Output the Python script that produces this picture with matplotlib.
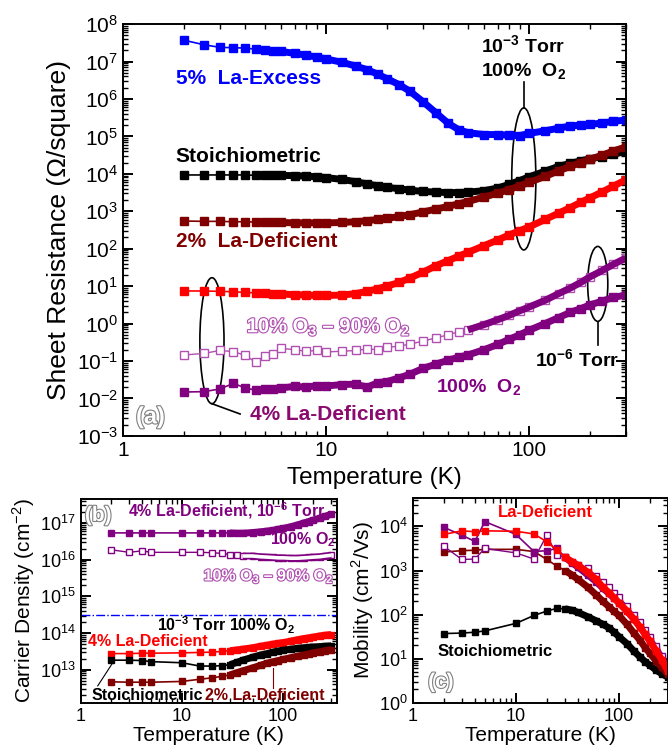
import numpy as np
import matplotlib
matplotlib.use('Agg')
import matplotlib.pyplot as plt
import matplotlib.patheffects as pe
from matplotlib.patches import Ellipse
from matplotlib.ticker import LogLocator, FuncFormatter, NullFormatter

plt.rcParams['font.family'] = ['Liberation Sans', 'DejaVu Sans']
plt.rcParams['mathtext.fontset'] = 'custom'
plt.rcParams['mathtext.rm'] = 'Liberation Sans'
plt.rcParams['mathtext.bf'] = 'Liberation Sans:bold'
plt.rcParams['axes.unicode_minus'] = False

BLUE, BLACK, MAROON, RED = '#0000ff', '#000000', '#800000', '#ff0000'
PURPLE, LILAC, MAGENTA = '#800080', '#b050b0', '#8b0a6e'

# ---- (a) sheet resistance, log10(ohm/sq) ----
temp_a = [2, 2.5, 3, 3.5, 4, 4.5, 5, 5.5, 6, 7, 8, 9, 10, 12, 14, 16, 18, 20, 23, 26,
          30, 35, 40, 45, 50, 60, 70, 80, 90, 100, 120, 140, 160, 180, 200, 230, 260, 300]
rs_excess = [7.57, 7.45, 7.38, 7.37, 7.36, 7.33, 7.31, 7.29, 7.27, 7.22, 7.17, 7.12, 7.07,
             6.98, 6.88, 6.78, 6.66, 6.54, 6.38, 6.2, 5.93, 5.62, 5.35, 5.18, 5.1, 5.05,
             5.05, 5.03, 5.02, 5.08, 5.15, 5.22, 5.28, 5.3, 5.32, 5.36, 5.4, 5.44]
rs_stoich = [3.97, 3.97, 3.97, 3.97, 3.97, 3.96, 3.96, 3.96, 3.96, 3.95, 3.94, 3.92, 3.9,
             3.85, 3.79, 3.73, 3.68, 3.64, 3.6, 3.56, 3.53, 3.51, 3.5, 3.5, 3.51, 3.55,
             3.62, 3.72, 3.82, 3.92, 4.07, 4.2, 4.28, 4.35, 4.4, 4.46, 4.52, 4.6]
rs_def2 = [2.74, 2.73, 2.73, 2.72, 2.72, 2.71, 2.71, 2.7, 2.7, 2.69, 2.69, 2.69, 2.69,
           2.7, 2.72, 2.75, 2.78, 2.81, 2.86, 2.91, 2.98, 3.06, 3.13, 3.2, 3.26, 3.38,
           3.48, 3.58, 3.68, 3.77, 3.93, 4.08, 4.2, 4.3, 4.39, 4.5, 4.61, 4.72]
rs_def4_3 = [0.87, 0.87, 0.86, 0.85, 0.83, 0.82, 0.81, 0.8, 0.79, 0.77, 0.76, 0.75, 0.75,
             0.76, 0.8, 0.86, 0.93, 1.0, 1.1, 1.22, 1.37, 1.55, 1.68, 1.8, 1.9, 2.08,
             2.23, 2.37, 2.48, 2.58, 2.78, 2.95, 3.1, 3.24, 3.36, 3.52, 3.67, 3.84]
rs_ozone = [-0.84, -0.8, -0.72, -0.75, -0.85, -1.03, -0.86, -0.82, -0.66, -0.7, -0.74,
            -0.72, -0.76, -0.74, -0.72, -0.68, -0.7, -0.64, -0.6, -0.55, -0.47, -0.38,
            -0.3, -0.22, -0.17, -0.03, 0.1, 0.22, 0.34, 0.44, 0.62, 0.8, 0.95, 1.1,
            1.25, 1.42, 1.58, 1.75]
rs_o2 = [-1.83, -1.82, -1.75, -1.6, -1.72, -1.78, -1.76, -1.74, -1.72, -1.68, -1.7,
         -1.66, -1.67, -1.63, -1.62, -1.7, -1.58, -1.55, -1.45, -1.35, -1.2, -1.08,
         -0.98, -0.9, -0.84, -0.7, -0.56, -0.42, -0.3, -0.18, 0.0, 0.16, 0.3, 0.4,
         0.5, 0.6, 0.7, 0.76]

# ---- (b) carrier density, log10(cm^-2) and (c) mobility, log10(cm^2/Vs) ----
temp_bc = [2, 3, 4, 5, 10, 15, 20, 25, 30, 35, 40, 50, 60, 70, 80, 90, 100, 120, 140,
           160, 180, 200, 230, 260, 300]
n_o2 = [16.73, 16.73, 16.73, 16.73, 16.73, 16.73, 16.73, 16.73, 16.73, 16.72, 16.72,
        16.74, 16.76, 16.78, 16.8, 16.83, 16.85, 16.9, 16.95, 17.0, 17.04, 17.08, 17.13,
        17.18, 17.24]
n_ozone = [16.27, 16.2, 16.24, 16.2, 16.2, 16.2, 16.19, 16.17, 16.14, 16.12, 16.1, 16.1,
           16.08, 16.07, 16.06, 16.05, 16.05, 16.04, 16.04, 16.05, 16.06, 16.07, 16.08,
           16.1, 16.12]
n_def4_3 = [13.44, 13.44, 13.45, 13.45, 13.46, 13.47, 13.48, 13.5, 13.52, 13.54, 13.56,
            13.6, 13.64, 13.67, 13.7, 13.72, 13.74, 13.78, 13.82, 13.85, 13.87, 13.89,
            13.92, 13.94, 13.96]
n_stoich = [13.26, 13.26, 13.25, 13.22, 13.19, 13.1, 13.1, 13.11, 13.14, 13.2, 13.26,
            13.34, 13.4, 13.44, 13.48, 13.51, 13.53, 13.56, 13.58, 13.6, 13.61, 13.62,
            13.63, 13.64, 13.65]
n_def2 = [12.67, 12.66, 12.66, 12.66, 12.68, 12.74, 12.78, 12.82, 12.86, 12.92, 12.97,
          13.05, 13.12, 13.18, 13.22, 13.25, 13.28, 13.33, 13.37, 13.4, 13.43, 13.46,
          13.49, 13.52, 13.55]
n_threshold = 3.2e14

mu_o2 = [3.98, 3.8, 3.66, 4.11, 3.82, 3.43, 3.45, 3.5, 3.3, 3.18, 3.08, 2.9, 2.75, 2.6,
         2.48, 2.37, 2.27, 2.08, 1.9, 1.73, 1.57, 1.42, 1.22, 1.02, 0.76]
mu_ozone = [3.55, 3.25, 3.26, 3.5, 3.4, 3.26, 3.8, 3.35, 3.3, 3.2, 3.12, 3.05, 2.88, 2.75,
            2.62, 2.5, 2.4, 2.2, 2.0, 1.83, 1.66, 1.5, 1.28, 1.06, 0.8]
mu_def4_3 = [3.82, 3.9, 3.88, 3.9, 3.89, 3.83, 3.65, 3.47, 3.3, 3.2, 3.12, 2.96, 2.8,
             2.62, 2.5, 2.38, 2.27, 2.08, 1.9, 1.72, 1.55, 1.4, 1.18, 0.98, 0.72]
mu_def2 = [3.42, 3.45, 3.46, 3.48, 3.48, 3.43, 3.25, 3.1, 3.0, 2.9, 2.8, 2.62, 2.45, 2.3,
           2.18, 2.07, 1.98, 1.78, 1.58, 1.42, 1.25, 1.12, 0.95, 0.8, 0.65]
mu_stoich = [1.57, 1.58, 1.6, 1.63, 1.8, 1.98, 2.08, 2.14, 2.13, 2.1, 2.05, 1.95, 1.86,
             1.78, 1.7, 1.6, 1.5, 1.34, 1.17, 1.04, 0.93, 0.85, 0.74, 0.66, 0.58]


def curve(ax, t, logv, color, dense_from, open_marker=False, ms=5, band=5,
          band_color=None, hollow_band=False):
    t = np.asarray(t, float)
    v = 10 ** np.asarray(logv, float)
    m = t >= dense_from
    if open_marker:
        ax.plot(t, v, '-', color=color, lw=1, marker='s', ms=ms,
                mfc='white', mec=color, mew=1)
        if m.any():
            ax.plot(t[m], v[m], '-', color=band_color or color, lw=band,
                    solid_capstyle='butt')
            if hollow_band:
                ax.plot(t[m], v[m], '-', color='white', lw=band - 2.4,
                        solid_capstyle='butt')
        return
    ax.plot(t, v, '-', color=color, lw=1.2, marker='s', ms=ms, mec=color)
    ax.plot(t[m], v[m], '-', color=color, lw=band, solid_capstyle='butt')


def style_axes(ax, label_size):
    ax.set_xscale('log')
    ax.set_yscale('log')
    ax.xaxis.set_major_locator(LogLocator(base=10, numticks=20))
    ax.xaxis.set_minor_locator(LogLocator(base=10, subs=np.arange(2, 10), numticks=100))
    ax.yaxis.set_major_locator(LogLocator(base=10, numticks=20))
    ax.yaxis.set_minor_locator(LogLocator(base=10, subs=np.arange(2, 10), numticks=100))
    ax.xaxis.set_major_formatter(FuncFormatter(lambda v, _: f'{v:g}'))
    ax.xaxis.set_minor_formatter(NullFormatter())
    ax.yaxis.set_minor_formatter(NullFormatter())
    ax.tick_params(which='both', direction='in', top=True, right=True,
                   labelsize=label_size)
    ax.tick_params(which='major', length=7, width=1.4)
    ax.tick_params(which='minor', length=3.5, width=1)
    for s in ax.spines.values():
        s.set_linewidth(1.4)


def hollow(ax, x, y, s, color, size, **kw):
    ax.text(x, y, s, color='white', fontsize=size, fontweight='bold',
            path_effects=[pe.Stroke(linewidth=1.6, foreground=color), pe.Normal()], **kw)


fig = plt.figure(figsize=(6.68, 7.54), dpi=100)

# ---------------- panel (a) ----------------
ax = fig.add_axes([0.184, 0.422, 0.753, 0.546])
style_axes(ax, 15)
curve(ax, temp_a, rs_excess, BLUE, 5, ms=5.5)
curve(ax, temp_a, rs_stoich, BLACK, 5, ms=5.5)
curve(ax, temp_a, rs_def2, MAROON, 5, ms=5.5)
curve(ax, temp_a, rs_def4_3, RED, 5, ms=5.5)
curve(ax, temp_a, rs_ozone, LILAC, 50, open_marker=True, ms=6, band_color=PURPLE)
curve(ax, temp_a, rs_o2, PURPLE, 5, ms=5.5)
ax.set_xlim(1, 300)
ax.set_ylim(1e-3, 1e8)
ax.set_xlabel('Temperature (K)', fontsize=17.5, labelpad=5)
ax.set_ylabel('Sheet Resistance (\u03a9/square)', fontsize=19, labelpad=4)

kw = dict(fontsize=15, fontweight='bold', va='center')
ax.text(1.82, 10 ** 6.56, '5%  La-Excess', color=BLUE, **kw)
ax.text(1.82, 10 ** 4.45, 'Stoichiometric', color=BLACK, **kw)
ax.text(1.82, 10 ** 2.18, '2%  La-Deficient', color=MAROON, **kw)
ax.text(94, 10 ** 7.09, '10$^{\\mathbf{-3}}$ Torr\n100%  O$_{\\mathbf{2}}$', color=BLACK,
        ha='center', linespacing=1.25, fontsize=14, fontweight='bold', va='center')
ax.text(4.21, 10 ** -2.44, '4% La-Deficient', color=MAGENTA, **kw)
ax.text(172, 10 ** -0.97, '10$^{\\mathbf{-6}}$ Torr', color=BLACK, ha='center',
        fontsize=14, fontweight='bold', va='center')
ax.text(34.9, 10 ** -1.72, '100%  O$_{\\mathbf{2}}$', color=PURPLE, fontsize=14,
        fontweight='bold', va='center')
hollow(ax, 4.07, 10 ** -0.09, '10% O$_{\\mathbf{3}}$ \u2013 90% O$_{\\mathbf{2}}$', LILAC,
       14.5, va='center')
hollow(ax, 0.026, 0.046, '(a)', '#808080', 17, va='center', transform=ax.transAxes)

for cx, cy, w, h in [(0.797, 0.624, 0.048, 0.345), (0.177, 0.231, 0.048, 0.306),
                     (0.944, 0.369, 0.040, 0.182)]:
    ax.add_patch(Ellipse((cx, cy), w, h, transform=ax.transAxes, fill=False,
                         ec='black', lw=1.2))
ax.plot([0.797, 0.797], [0.796, 0.859], color='black', lw=1.2, transform=ax.transAxes)
ax.plot([0.177, 0.233], [0.078, 0.053], color='black', lw=1.2, transform=ax.transAxes)
ax.plot([0.944, 0.944], [0.277, 0.221], color='black', lw=1.2, transform=ax.transAxes)

# ---------------- panel (b) ----------------
bx = fig.add_axes([0.121, 0.068, 0.383, 0.270])
style_axes(bx, 13)
curve(bx, temp_bc, n_o2, PURPLE, 30, ms=5)
curve(bx, temp_bc, n_ozone, PURPLE, 40, open_marker=True, ms=5, hollow_band=True)
curve(bx, temp_bc, n_def4_3, RED, 30, ms=5)
curve(bx, temp_bc, n_stoich, BLACK, 30, ms=5)
curve(bx, temp_bc, n_def2, MAROON, 30, ms=5)
bx.axhline(n_threshold, color=BLUE, ls='-.', lw=1)
bx.set_xlim(1, 340)
bx.set_ylim(10 ** 12.1, 10 ** 17.65)
bx.set_xlabel('Temperature (K)', fontsize=15, labelpad=1)
bx.set_ylabel('Carrier Density (cm$^{-2}$)', fontsize=15, labelpad=2)

kb = dict(fontsize=11.5, fontweight='bold', va='center')
hollow(bx, 0.016, 0.92, '(b)', '#808080', 15, va='center', transform=bx.transAxes)
bx.text(2.92, 10 ** 17.33, '4% La-Deficient, 10$^{\\mathbf{-6}}$ Torr', color=PURPLE, **kb)
bx.text(330, 10 ** 16.54, '100% O$_{\\mathbf{2}}$', color=PURPLE, ha='right', **kb)
hollow(bx, 320, 10 ** 15.56, '10% O$_{\\mathbf{3}}$ \u2013 90% O$_{\\mathbf{2}}$', LILAC,
       11.5, ha='right', va='center')
bx.text(5.66, 10 ** 14.22, '10$^{\\mathbf{-3}}$ Torr 100% O$_{\\mathbf{2}}$', color=BLACK,
        **kb)
bx.text(1.17, 10 ** 13.78, '4% La-Deficient', color=RED, **kb)
bx.text(1.29, 10 ** 12.29, 'Stoichiometric', color=BLACK, **kb)
bx.text(16.9, 10 ** 12.29, '2% La-Deficient', color=MAROON, **kb)
bx.plot([1.47, 2.07], [10 ** 12.56, 10 ** 13.19], color=BLACK, lw=0.8)
bx.plot([79.8, 79.8], [10 ** 12.5, 10 ** 13.05], color=MAROON, lw=0.8)

# ---------------- panel (c) ----------------
cx_ = fig.add_axes([0.618, 0.068, 0.382, 0.272])
style_axes(cx_, 13)
curve(cx_, temp_bc, mu_stoich, BLACK, 30, ms=5)
curve(cx_, temp_bc, mu_def2, MAROON, 30, ms=5)
curve(cx_, temp_bc, mu_o2, PURPLE, 30, ms=5)
curve(cx_, temp_bc, mu_ozone, PURPLE, 1000, open_marker=True, ms=5)
curve(cx_, temp_bc, mu_def4_3, RED, 30, ms=5)
cx_.set_xlim(1, 300)
cx_.set_ylim(1, 4.5e4)
cx_.set_xlabel('Temperature (K)', fontsize=15, labelpad=1)
cx_.set_ylabel('Mobility (cm$^2$/Vs)', fontsize=15, labelpad=2)
kc = dict(fontsize=12, fontweight='bold', va='center')
cx_.text(6.66, 10 ** 4.32, 'La-Deficient', color=RED, **kc)
cx_.text(1.72, 10 ** 1.16, 'Stoichiometric', color=BLACK, **kc)
hollow(cx_, 0.06, 0.10, '(c)', '#808080', 15, va='center', transform=cx_.transAxes)

fig.savefig('out.png', dpi=100)
